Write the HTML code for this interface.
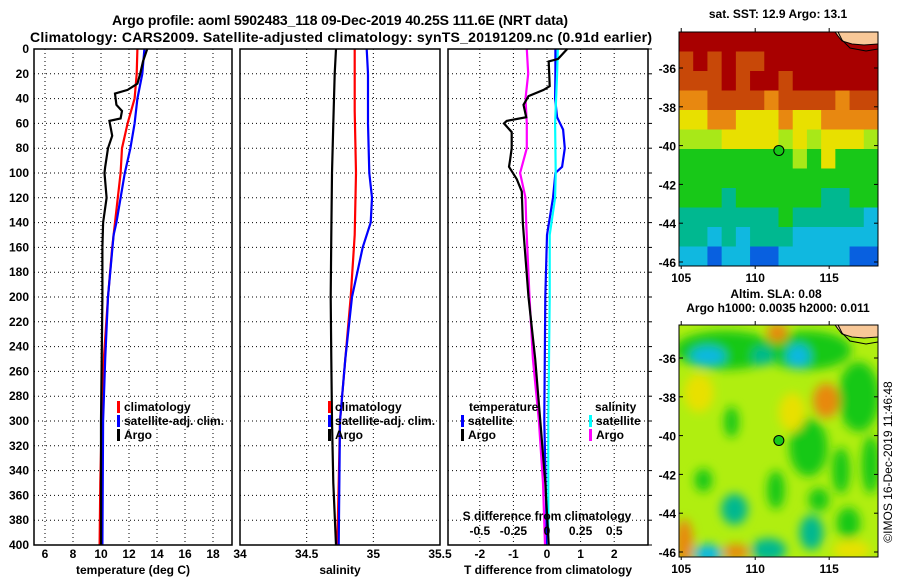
<!DOCTYPE html>
<html><head><meta charset="utf-8"><style>
html,body{margin:0;padding:0;background:#fff;}
svg{display:block;font-family:"Liberation Sans",Arial,sans-serif;}
.tk{font-size:12px;font-weight:bold;fill:#000;}
.lg{font-size:12px;font-weight:bold;fill:#000;}
</style></head><body>
<svg id="c" width="900" height="580" viewBox="0 0 900 580" xmlns="http://www.w3.org/2000/svg">
<defs><filter id="blur" x="-50%" y="-50%" width="200%" height="200%"><feGaussianBlur stdDeviation="5"/></filter>
<clipPath id="clipTop"><rect x="679" y="32" width="199" height="234"/></clipPath>
<clipPath id="clipBot"><rect x="679" y="325" width="199" height="232"/></clipPath></defs>
<text x="340" y="25" text-anchor="middle" font-size="14" font-weight="bold" textLength="456">Argo profile: aoml 5902483_118 09-Dec-2019 40.25S 111.6E (NRT data)</text>
<text x="341" y="42" text-anchor="middle" font-size="14" font-weight="bold" textLength="622">Climatology: CARS2009. Satellite-adjusted climatology: synTS_20191209.nc (0.91d earlier)</text>
<text transform="translate(892,462) rotate(-90)" text-anchor="middle" font-size="12">©IMOS 16-Dec-2019 11:46:48</text>
<g id="g"></g>
</svg>
<script>
// ---- data ----
const depthTicks=[0,20,40,60,80,100,120,140,160,180,200,220,240,260,280,300,320,340,360,380,400];
const tTicks=[6,8,10,12,14,16,18];
const sTicks=[34,34.5,35,35.5];
const dTicks=[-2,-1,0,1,2];
const sdTicks=[-0.5,-0.25,0,0.25,0.5];
const sdTickLabels=["-0.5","-0.25","0","0.25","0.5"];
const tempArgo=[[0,13.3],[10,13.0],[20,12.8],[28,12.6],[33,11.9],[36,11.0],[45,11.1],[50,11.5],[56,11.4],[58,10.6],[70,10.8],[80,10.5],[95,10.3],[100,10.25],[120,10.4],[140,10.15],[160,10.1],[200,10.1],[250,10.05],[300,10.0],[350,10.0],[400,10.0]];
const tempClim=[[0,12.6],[20,12.55],[40,12.4],[60,11.9],[80,11.5],[100,11.4],[120,11.2],[140,11.0],[160,10.8],[200,10.5],[250,10.2],[300,10.05],[350,9.95],[400,9.9]];
const tempSat=[[0,13.1],[20,12.95],[40,12.6],[60,12.4],[80,12.1],[100,11.7],[120,11.4],[140,11.1],[150,10.9],[200,10.5],[250,10.3],[300,10.15],[400,10.1]];
const salArgo=[[0,34.72],[20,34.71],[60,34.70],[100,34.69],[150,34.685],[200,34.68],[250,34.685],[300,34.69],[350,34.70],[400,34.72]];
const salClim=[[0,34.86],[50,34.86],[100,34.87],[150,34.86],[200,34.83],[250,34.79],[300,34.75],[350,34.74],[400,34.73]];
const salSat=[[0,34.95],[20,34.96],[60,34.96],[100,34.97],[120,34.99],[140,34.98],[160,34.92],[200,34.84],[250,34.79],[300,34.75],[400,34.74]];
const dTArgo=[[0,0.6],[8,0.33],[10,0.05],[30,0.08],[33,-0.1],[38,-0.55],[45,-0.7],[55,-0.62],[58,-1.2],[60,-1.28],[67,-1.05],[80,-1.05],[90,-1.1],[95,-1.13],[105,-0.9],[115,-0.75],[140,-0.72],[200,-0.55],[250,-0.35],[300,-0.2],[350,-0.05],[400,0.05]];
const dTSat=[[0,0.25],[20,0.25],[40,0.24],[55,0.3],[65,0.48],[80,0.53],[95,0.45],[100,0.25],[120,0.18],[150,0.0],[200,-0.05],[300,-0.08],[400,0.0]];
const dSArgo=[[0,-0.15],[20,-0.14],[40,-0.16],[60,-0.15],[80,-0.15],[100,-0.2],[120,-0.16],[140,-0.155],[200,-0.13],[250,-0.105],[300,-0.06],[350,-0.03],[400,-0.015]];
const dSSat=[[0,0.08],[20,0.075],[60,0.06],[100,0.065],[120,0.06],[150,0.02],[200,0.02],[300,0.01],[400,0.01]];
const sstRows=["RRRRRRRRRRRRLL","OROROORRRRRRRR","OOORORRORRRRRR","AAOOOOAOOOOAOO","YYAAYYYAYYAAAA","VVVYYYYVYVYYYV","GGGGGGGGVGYGGG","GGGGGGGGGGGGGG","GGGTGGGGGGTTGG","TTTTTTTGTTTTTC","TTCTCTTTCCCCCC","CCBCCBBCCCCCBB"];
const slaBlobs=[[108.0,-35.6,3.5,1.0,"G"],[113.5,-35.6,3.0,1.0,"G"],[106.8,-35.9,1.2,0.5,"C"],[112.9,-35.9,0.8,0.6,"C"],[110.5,-35.9,0.7,0.5,"T"],[111.5,-34.7,0.7,0.5,"A"],[117,-38.0,1.4,1.8,"G"],[114.8,-38.2,0.9,0.9,"A"],[108.4,-39.3,0.5,0.8,"G"],[113.6,-40.6,1.3,1.5,"G"],[115.8,-41.8,0.6,1.2,"G"],[108.6,-43.8,0.9,0.8,"T"],[111.4,-42.8,0.6,1.0,"G"],[113.8,-45.0,0.8,0.9,"T"],[116.3,-44.5,0.8,0.8,"G"],[106.8,-46.1,1.0,0.5,"C"],[110.9,-45.9,1.2,0.6,"T"],[105.2,-45.5,0.6,1.2,"A"],[108.7,-46.0,0.9,0.4,"A"],[116.5,-45.9,1.3,0.5,"Y"],[117.8,-41.5,0.6,1.5,"G"],[112.5,-38.8,0.9,1.0,"Y"],[106.2,-37.8,1.0,1.0,"Y"],[106.5,-42.3,0.6,0.6,"G"],[114.3,-43.3,0.7,0.6,"G"]];
const argoLon=111.6, argoLat=-40.25;
const sstTitle="sat. SST: 12.9 Argo: 13.1";
const slaTitle1="Altim. SLA: 0.08";
const slaTitle2="Argo h1000: 0.0035 h2000: 0.011";
const latTicks=[-36,-38,-40,-42,-44,-46];
const lonTicks=[105,110,115];

const NS="http://www.w3.org/2000/svg";
const g=document.getElementById('g');
function el(tag,attrs,parent){const e=document.createElementNS(NS,tag);for(const k in attrs)e.setAttribute(k,attrs[k]);(parent||g).appendChild(e);return e;}
const Y0=49,Y1=545;
const yD=d=>Y0+d*(Y1-Y0)/400;
const xT=t=>45+(t-6)*14;
const xS=s=>240+(s-34)*(200/1.5);
const xD=d=>547+d*33.6;
const xSD=s=>547+s*134.4;
const panels=[{x0:34,x1:232,name:'temperature-panel'},{x0:240,x1:440,name:'salinity-panel'},{x0:448,x1:648,name:'difference-panel'}];
const grids=[tTicks.map(xT),sTicks.slice(1,3).map(xS),dTicks.map(xD)];
panels.forEach((p,i)=>{
  const pg=el('g',{});
  
  
  el('rect',{x:p.x0,y:Y0,width:p.x1-p.x0,height:Y1-Y0,fill:'#fff',stroke:'none'},pg);
  depthTicks.slice(1,-1).forEach(d=>el('line',{x1:p.x0,x2:p.x1,y1:yD(d),y2:yD(d),stroke:'#000','stroke-width':1,'stroke-dasharray':'1,3'},pg));
  grids[i].forEach(x=>el('line',{x1:x,x2:x,y1:Y0,y2:Y1,stroke:'#000','stroke-width':1,'stroke-dasharray':'1,3'},pg));
});
depthTicks.forEach(d=>{const t=el('text',{x:29,y:yD(d)+4,'text-anchor':'end',class:'tk'});t.textContent=d;


el('line',{x1:648,x2:652,y1:yD(d),y2:yD(d),stroke:'#000'});});
function xlabels(ticks,f,labels,y){ticks.forEach((v,i)=>{const t=el('text',{x:f(v),y:y,'text-anchor':'middle',class:'tk'});t.textContent=labels?labels[i]:v;

});}
xlabels(tTicks,xT,null,558);
xlabels(sTicks,xS,null,558);
xlabels(dTicks,xD,null,558);
[['temperature (deg C)',133],['salinity',340],['T difference from climatology',548]].forEach(a=>{const t=el('text',{x:a[1],y:574,'text-anchor':'middle',class:'tk'});t.textContent=a[0];

});
function line(data,fx,color,name,w){const pts=data.map(p=>fx(p[1]).toFixed(1)+','+yD(p[0]).toFixed(1)).join(' ');
const l=el('polyline',{points:pts,fill:'none',stroke:color,'stroke-width':w||2.2});

}
line(tempClim,xT,'#f00','temp-climatology-line');
line(tempSat,xT,'#00f','temp-satellite-line');
line(tempArgo,xT,'#000','temp-argo-line');
line(salClim,xS,'#f00','sal-climatology-line');
line(salSat,xS,'#00f','sal-satellite-line');
line(salArgo,xS,'#000','sal-argo-line');
line(dTSat,xD,'#00f','tdiff-satellite-line');
line(dSSat,xSD,'#0ff','sdiff-satellite-line');
line(dSArgo,xSD,'#f0f','sdiff-argo-line');
line(dTArgo,xD,'#000','tdiff-argo-line');
panels.forEach(p=>el('rect',{x:p.x0,y:Y0,width:p.x1-p.x0,height:Y1-Y0,fill:'none',stroke:'#000','stroke-width':1.5}));
{const t=el('text',{x:547,y:520,'text-anchor':'middle',class:'tk'});t.textContent='S difference from climatology';

}
xlabels(sdTicks,xSD,sdTickLabels,535);
function leg(mx,tx,y,color,label,name){if(color)el('rect',{x:mx,y:y-10,width:3,height:12,fill:color});const t=el('text',{x:tx,y:y,class:'lg'});t.textContent=label;

}
leg(117,124,411,'#f00','climatology','legend-climatology');
leg(117,124,425,'#00f','satellite-adj. clim.','legend-satellite');
leg(117,124,439,'#000','Argo','legend-argo');
leg(328,335,411,'#f00','climatology','legend-climatology');
leg(328,335,425,'#00f','satellite-adj. clim.','legend-satellite');
leg(328,335,439,'#000','Argo','legend-argo');
leg(0,469,411,null,'temperature','legend-temperature-header');
leg(461,468,425,'#00f','satellite','legend-t-satellite');
leg(461,468,439,'#000','Argo','legend-t-argo');
leg(0,595,411,null,'salinity','legend-salinity-header');
leg(589,596,425,'#0ff','satellite','legend-s-satellite');
leg(589,596,439,'#f0f','Argo','legend-s-argo');
const cols={R:'#a80000',O:'#c84808',A:'#e88810',Y:'#e8e000',V:'#a8e818',G:'#18c818',T:'#00b890',C:'#10b8e0',B:'#0860e0',L:'#f8c898'};
const M={x0:679,x1:878,lon0:104.85,lon1:118.3};
const mx=lon=>M.x0+(lon-M.lon0)*(M.x1-M.x0)/(M.lon1-M.lon0);
function map(top,bot,lat36y,clip,name,title1,title2,fill){
  const my=lat=>lat36y+(-36-lat)*19.4;
  const mg=el('g',{'clip-path':'url(#'+clip+')'});
  
  
  fill(mg,my);
  el('path',{d:`M${mx(115.4)},${top} L${M.x1},${top} L${M.x1},${top+12} L864,${top+13} L852,${top+12} L842,${top+9} L838,${top+4} Z`,fill:'#f8c898',stroke:'none'},mg);
  el('path',{d:`M${mx(115.4)},${top} L838,${top+4} L842,${top+9} L852,${top+12} L864,${top+13} L${M.x1},${top+12}`,fill:'none',stroke:'#000','stroke-width':1},mg);
  el('path',{d:`M${mx(115.6)},${top} L842,${top+8} L850,${top+16} L866,${top+19} L${M.x1},${top+17}`,fill:'none',stroke:'#000','stroke-width':1},mg);
  const c=el('circle',{cx:mx(argoLon),cy:my(argoLat),r:5,fill:'#18c818',stroke:'#000','stroke-width':1});
  
  
  el('rect',{x:M.x0,y:top,width:M.x1-M.x0,height:bot-top,fill:'none',stroke:'#000','stroke-width':1});
  latTicks.forEach(l=>{const t=el('text',{x:676,y:my(l)+5,'text-anchor':'end',class:'tk'});t.textContent=l;
  
  
  el('line',{x1:M.x0,x2:M.x0+4,y1:my(l),y2:my(l),stroke:'#000'});el('line',{x1:M.x1-4,x2:M.x1,y1:my(l),y2:my(l),stroke:'#000'});});
  lonTicks.forEach(l=>{const t=el('text',{x:mx(l),y:bot+16,'text-anchor':'middle',class:'tk'});t.textContent=l;
  
  
  el('line',{x1:mx(l),x2:mx(l),y1:top,y2:top-4,stroke:'#000'});el('line',{x1:mx(l),x2:mx(l),y1:bot,y2:bot+3,stroke:'#000'});});
  if(title2){const t=el('text',{x:776,y:top-27,'text-anchor':'middle',class:'tk'});t.textContent=title1;
  
  
  const t2=el('text',{x:778,y:top-13,'text-anchor':'middle',class:'tk'});t2.textContent=title2;
  
  }
  else{const t=el('text',{x:778,y:top-14,'text-anchor':'middle',class:'tk'});t.textContent=title1;
  
  }
}
map(32,266,68,'clipTop','sst-map',sstTitle,null,(mg,my)=>{
  const nr=sstRows.length,nc=sstRows[0].length,cw=(M.x1-M.x0)/nc,ch=(266-32)/nr;
  sstRows.forEach((row,r)=>row.split('').forEach((k,c)=>{el('rect',{x:M.x0+c*cw,y:32+r*ch,width:cw+0.5,height:ch+0.5,fill:cols[k==='L'?'R':k]},mg);}));
});
map(325,557,358,'clipBot','sla-map',slaTitle1,slaTitle2,(mg,my)=>{
  el('rect',{x:M.x0,y:325,width:199,height:232,fill:'#b0ee10'},mg);
  const bg=el('g',{filter:'url(#blur)'},mg);
  slaBlobs.forEach(b=>{const e=el('ellipse',{cx:mx(b[0]),cy:my(b[1]),rx:b[2]*14.8,ry:b[3]*19.4,fill:cols[b[4]]},bg);
  
  });
});
</script>
</body></html>
